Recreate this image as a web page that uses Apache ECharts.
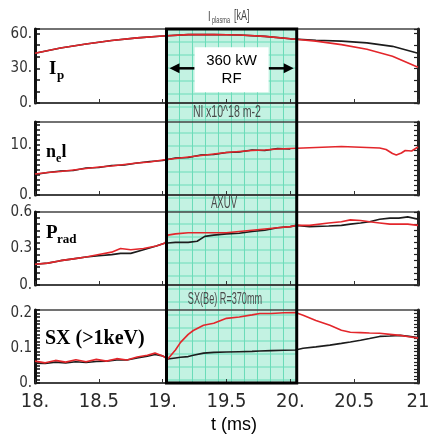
<!DOCTYPE html>
<html>
<head>
<meta charset="utf-8">
<script src="https://cdn.jsdelivr.net/npm/echarts@6/dist/echarts.min.js"></script>
<style>
  html, body { margin: 0; padding: 0; background: #fff; }
  #chart { width: 436px; height: 435px; }
</style>
</head>
<body>
<div id="chart"></div>
<script>
// RF pulse window (ms) and level of the "360 kW RF" arrow in the Ip panel (kA)
const rfStart = 19.03;
const rfEnd = 20.05;
const rfArrowLevel = 30;

// x axis
const xTickValues = [18, 18.5, 19, 19.5, 20, 20.5, 21];
const xTickLabels = ["18.", "18.5", "19.", "19.5", "20.", "20.5", "21"];

// Ip [kA]
const ipT = [18.0, 18.2, 18.4, 18.6, 18.8, 19.0, 19.2, 19.4, 19.6, 19.8, 20.0, 20.2, 20.4, 20.6, 20.8, 21.0];
const ipBlack = [43, 47.5, 51, 54, 56.3, 58, 59.1, 59.2, 58.8, 57.6, 55.5, 54.3, 53.5, 52, 49, 43];
const ipRed = [43, 47.5, 51, 54, 56.3, 58, 59.1, 59.2, 58.8, 57.6, 55.5, 53.5, 50.5, 46.5, 40.5, 31];
const ipTickValues = [0, 30, 60];
const ipTickLabels = ["0.", "30.", "60."];

// nel [1e18 m-2]
const neT = [18.0, 18.1, 18.2, 18.3, 18.4, 18.5, 18.6, 18.7, 18.8, 18.9, 19.0, 19.1, 19.2, 19.3, 19.4, 19.5, 19.6, 19.7, 19.8, 19.9, 20.0, 20.1, 20.2, 20.3, 20.4, 20.5, 20.6, 20.7, 20.75, 20.8, 20.83, 20.87, 20.9, 20.95, 21.0];
const neRed = [4.2, 4.5, 4.7, 5.0, 5.3, 5.6, 5.8, 6.1, 6.4, 6.6, 7.0, 7.3, 7.6, 7.9, 8.2, 8.5, 8.7, 8.9, 9.0, 9.2, 9.3, 9.4, 9.5, 9.6, 9.7, 9.6, 9.5, 9.4, 9.1, 8.3, 8.0, 8.4, 8.9, 8.8, 9.6];
const neBlack = [4.1, 4.5, 4.8, 4.9, 5.4, 5.5, 5.9, 6.0, 6.4, 6.7, 6.9, 7.4, 7.5, 8.0, 8.1, 8.5, 8.6, 9.0, 8.9, 9.3, 9.2, null, null, null, null, null, null, null, null, null, null, null, null, null, null];
const neTickValues = [0, 10];
const neTickLabels = ["0.", "10."];

// Prad (AXUV)
const prT = [18.0, 18.1, 18.2, 18.3, 18.4, 18.5, 18.6, 18.67, 18.75, 18.85, 18.95, 19.02, 19.04, 19.1, 19.2, 19.27, 19.33, 19.4, 19.5, 19.6, 19.7, 19.8, 19.9, 20.0, 20.05, 20.15, 20.3, 20.4, 20.47, 20.55, 20.62, 20.7, 20.78, 20.85, 20.92, 21.0];
const prBlack = [0.17, 0.18, 0.20, 0.215, 0.23, 0.24, 0.25, 0.26, 0.26, 0.29, 0.32, 0.345, 0.345, 0.35, 0.35, 0.36, 0.40, 0.41, 0.42, 0.425, 0.44, 0.45, 0.47, 0.48, 0.49, 0.48, 0.485, 0.49, 0.50, 0.51, 0.52, 0.54, 0.55, 0.55, 0.56, 0.54];
const prRed = [0.17, 0.18, 0.20, 0.215, 0.23, 0.25, 0.27, 0.30, 0.29, 0.30, 0.32, 0.345, 0.41, 0.42, 0.43, 0.43, 0.43, 0.43, 0.43, 0.44, 0.45, 0.46, 0.47, 0.48, 0.49, 0.49, 0.51, 0.52, 0.535, 0.53, 0.52, 0.51, 0.50, 0.50, 0.50, 0.49];
const prTickValues = [0, 0.3, 0.6];
const prTickLabels = ["0.", "0.3", "0.6"];

// SX (>1keV)
const sxT = [18.0, 18.08, 18.16, 18.24, 18.32, 18.4, 18.48, 18.56, 18.64, 18.72, 18.8, 18.88, 18.94, 19.0, 19.04, 19.1, 19.14, 19.2, 19.24, 19.32, 19.4, 19.5, 19.6, 19.7, 19.76, 19.85, 19.95, 20.04, 20.1, 20.2, 20.31, 20.4, 20.47, 20.55, 20.62, 20.7, 20.78, 20.86, 20.93, 21.0];
const sxRed = [0.063, 0.058, 0.065, 0.060, 0.067, 0.061, 0.068, 0.063, 0.070, 0.066, 0.075, 0.080, 0.086, 0.078, 0.069, 0.095, 0.117, 0.14, 0.151, 0.166, 0.172, 0.186, 0.19, 0.196, 0.20, 0.20, 0.202, 0.203, 0.195, 0.18, 0.166, 0.152, 0.146, 0.145, 0.144, 0.143, 0.14, 0.137, 0.133, 0.129];
const sxBlack = [0.057, 0.056, 0.060, 0.058, 0.061, 0.059, 0.062, 0.063, 0.066, 0.066, 0.072, 0.077, 0.082, 0.078, 0.069, 0.072, 0.074, 0.076, 0.080, 0.086, 0.088, 0.089, 0.09, 0.091, 0.092, 0.093, 0.094, 0.095, 0.10, 0.104, 0.109, 0.114, 0.118, 0.123, 0.128, 0.134, 0.135, 0.137, 0.134, 0.131];
const sxTickValues = [0, 0.1, 0.2];
const sxTickLabels = ["0.", "0.1", "0.2"];

const narrow = "'Liberation Sans Narrow', 'DejaVu Sans Condensed', sans-serif";
const serif = "'Liberation Serif', 'DejaVu Serif', serif";
const sans = "'Liberation Sans', Arial, sans-serif";
const BLACK = "#1c1c1c";
const RED = "#e3262b";

const zip = (t, v) => t.map((x, i) => [x, v[i]]);

const panels = [
    { top: 29, height: 74, max: 64, tick: 10, labels: [ipTickValues, ipTickLabels], black: zip(ipT, ipBlack), red: zip(ipT, ipRed) },
    { top: 122, height: 73, max: 14.6, tick: 1, labels: [neTickValues, neTickLabels], black: zip(neT, neBlack), red: zip(neT, neRed) },
    { top: 212, height: 73, max: 0.6, tick: 0.05, labels: [prTickValues, prTickLabels], black: zip(prT, prBlack), red: zip(prT, prRed) },
    { top: 310, height: 73, max: 0.21, tick: 0.01, labels: [sxTickValues, sxTickLabels], black: zip(sxT, sxBlack), red: zip(sxT, sxRed) },
];

const gridLeft = 35;
const gridRight = 18;

const grids = panels.map((p) => ({
    left: gridLeft, right: gridRight, top: p.top, height: p.height,
    show: true, borderColor: "#444", borderWidth: 1.5, z: 3, outerBoundsMode: "none",
}));
// overlay grid spanning all panels, for the RF window
grids.push({ left: gridLeft, right: gridRight, top: panels[0].top, bottom: 435 - (panels[3].top + panels[3].height), outerBoundsMode: "none" });

const xAxes = panels.map((p, i) => ({
    gridIndex: i, type: "value", min: 18, max: 21, interval: 0.5, z: 3,
    axisLine: { show: true, onZero: false, lineStyle: { color: "#333", width: 1.5 } },
    axisTick: { show: true, inside: true, length: 4, lineStyle: { color: "#333" } },
    axisLabel: {
        show: i === 3, margin: 9, fontSize: 20, color: "#2a2a2a", fontFamily: narrow,
        formatter: (v) => xTickLabels[xTickValues.indexOf(v)] ?? "",
    },
    splitLine: { show: false },
}));
xAxes.push({ gridIndex: 4, type: "value", min: 18, max: 21, show: false });

const leftAxes = panels.map((p, i) => ({
    gridIndex: i, type: "value", position: "left", min: 0, max: p.max, interval: p.tick, z: 3,
    axisLine: { show: true, onZero: false, lineStyle: { color: "#111", width: 3 } },
    axisTick: { show: true, inside: true, length: 5, lineStyle: { color: "#111", width: 1.5 } },
    axisLabel: {
        show: true, customValues: p.labels[0], margin: 3, fontSize: 15, color: "#333", fontFamily: narrow,
        formatter: (v) => p.labels[1][p.labels[0].indexOf(v)] ?? "",
    },
    splitLine: { show: false },
}));
const rightAxes = panels.map((p, i) => ({
    gridIndex: i, type: "value", position: "right", min: 0, max: p.max, interval: p.tick, z: 3,
    axisLine: { show: true, onZero: false, lineStyle: { color: "#222", width: 3 } },
    axisTick: { show: true, inside: true, length: 4, lineStyle: { color: "#222", width: 1.2 } },
    axisLabel: { show: false },
    splitLine: { show: false },
}));
const overlayY = { gridIndex: 4, type: "value", min: 0, max: 1, show: false };

const lineSeries = [];
panels.forEach((p, i) => {
    lineSeries.push({
        type: "line", xAxisIndex: i, yAxisIndex: i, data: p.black, showSymbol: false, silent: true,
        connectNulls: false, lineStyle: { color: BLACK, width: 1.6 }, z: 4,
    });
    lineSeries.push({
        type: "line", xAxisIndex: i, yAxisIndex: i, data: p.red, showSymbol: false, silent: true,
        lineStyle: { color: RED, width: 1.6 }, z: 5,
    });
});

// teal background with a fine grid
const rfBackground = {
    type: "custom", xAxisIndex: 4, yAxisIndex: 8, silent: true, z: 1,
    data: [[rfStart, rfEnd]],
    renderItem: (params, api) => {
        const a = api.coord([api.value(0), 1]);
        const b = api.coord([api.value(1), 0]);
        const children = [{ type: "rect", shape: { x: a[0], y: a[1], width: b[0] - a[0], height: b[1] - a[1] }, style: { fill: "#c3f2e2" } }];
        const step = 13;
        for (let x = a[0] + step; x < b[0]; x += step) {
            children.push({ type: "line", shape: { x1: x, y1: a[1], x2: x, y2: b[1] }, style: { stroke: "#6adcb9", lineWidth: 1 } });
        }
        for (let y = a[1] + step; y < b[1]; y += step) {
            children.push({ type: "line", shape: { x1: a[0], y1: y, x2: b[0], y2: y }, style: { stroke: "#6adcb9", lineWidth: 1 } });
        }
        return { type: "group", children };
    },
};

// thick black outline of the RF window
const rfFrame = {
    type: "custom", xAxisIndex: 4, yAxisIndex: 8, silent: true, z: 6,
    data: [[rfStart, rfEnd]],
    renderItem: (params, api) => {
        const a = api.coord([api.value(0), 1]);
        const b = api.coord([api.value(1), 0]);
        return { type: "rect", shape: { x: a[0], y: a[1], width: b[0] - a[0], height: b[1] - a[1] }, style: { fill: "none", stroke: "#000", lineWidth: 3 } };
    },
};

// "360 kW RF" label with arrows to both edges
const rfLabel = {
    type: "custom", xAxisIndex: 0, yAxisIndex: 0, silent: true, z: 7,
    data: [[rfStart, rfEnd, rfArrowLevel]],
    renderItem: (params, api) => {
        const a = api.coord([api.value(0), api.value(2)]);
        const b = api.coord([api.value(1), api.value(2)]);
        const y = a[1];
        const cx = (a[0] + b[0]) / 2;
        const w = 74, h = 45;
        const l = a[0] + 3, r = b[0] - 3;
        return {
            type: "group",
            children: [
                { type: "line", shape: { x1: cx - w / 2, y1: y, x2: l + 8, y2: y }, style: { stroke: "#000", lineWidth: 2.5 } },
                { type: "polygon", shape: { points: [[l, y], [l + 10, y - 5], [l + 10, y + 5]] }, style: { fill: "#000" } },
                { type: "line", shape: { x1: cx + w / 2, y1: y, x2: r - 8, y2: y }, style: { stroke: "#000", lineWidth: 2.5 } },
                { type: "polygon", shape: { points: [[r, y], [r - 10, y - 5], [r - 10, y + 5]] }, style: { fill: "#000" } },
                { type: "rect", shape: { x: cx - w / 2, y: y + 1.5 - h / 2, width: w, height: h }, style: { fill: "#fff" } },
                {
                    type: "text", x: cx, y: y + 2,
                    style: { text: "360 kW\nRF", font: "15px " + sans, lineHeight: 18, align: "center", verticalAlign: "middle", fill: "#000" },
                },
            ],
        };
    },
};

const label = (text, x, y, size, extra = {}) => ({
    type: "text", x, y, z: 10, silent: true, ...extra,
    style: { text, font: `bold ${size}px ${serif}`, fill: "#000", align: "left", verticalAlign: "middle" },
});
const title = (text, x, y, size, sx, align = "center") => ({
    type: "text", x, y, z: 10, silent: true, scaleX: sx,
    style: { text, font: `${size}px ${sans}`, fill: "#4a4a4a", align, verticalAlign: "middle" },
});

const graphics = [
    title("I", 208, 17, 15, 0.62, "left"),
    title("plasma", 212, 21, 9, 0.62, "left"),
    title("[kA]", 234, 16, 15, 0.6, "left"),
    title("Nl x10^18 m-2", 227, 113, 16, 0.66),
    title("AXUV", 224, 204, 16, 0.6),
    title("SX(Be) R=370mm", 225, 300, 16, 0.57),
    label("I", 49, 68.7, 19),
    label("p", 57, 75.7, 13),
    label("n", 46, 152, 18),
    label("e", 56, 159, 12),
    label("l", 61.5, 152, 18),
    label("P", 46, 232.7, 19),
    label("rad", 57, 239.7, 13),
    label("SX (>1keV)", 45, 338.4, 20),
    {
        type: "text", x: 234, y: 425, z: 10, silent: true,
        style: { text: "t (ms)", font: `18px ${sans}`, fill: "#000", align: "center", verticalAlign: "middle" },
    },
];

const chart = echarts.init(document.getElementById("chart"));
chart.setOption({
    animation: false,
    backgroundColor: "#fff",
    grid: grids,
    xAxis: xAxes,
    yAxis: [...leftAxes, ...rightAxes, overlayY],
    series: [rfBackground, ...lineSeries, rfFrame, rfLabel],
    graphic: graphics,
});
</script>
</body>
</html>
